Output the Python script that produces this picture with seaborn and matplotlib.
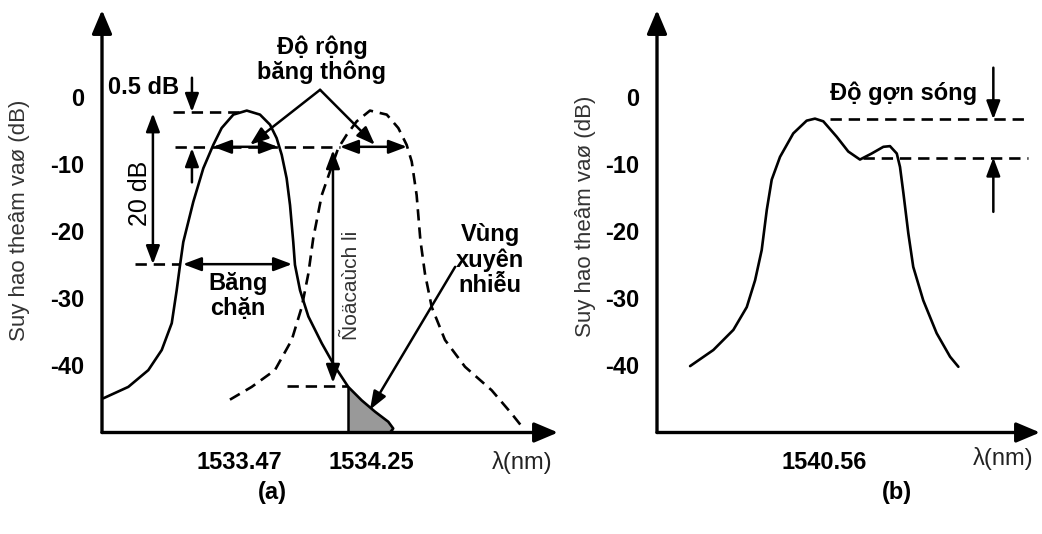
import matplotlib
matplotlib.use("Agg")
import matplotlib.pyplot as plt
import seaborn as sns
import pandas as pd

# ---------------- data ----------------
# Panel (a): solid filter response (wavelength nm, insertion loss dB)
a_solid_nm = [1532.669, 1532.816, 1532.934, 1533.013, 1533.072, 1533.101, 1533.121,
              1533.140, 1533.199, 1533.258, 1533.317, 1533.366, 1533.435, 1533.514,
              1533.592, 1533.651, 1533.690, 1533.720, 1533.749, 1533.769, 1533.788,
              1533.798, 1533.828, 1533.877, 1533.956, 1534.034, 1534.112, 1534.191,
              1534.270, 1534.348, 1534.377, 1534.358]
a_solid_db = [-44.9, -43.2, -40.7, -37.7, -33.7, -28.8, -25.0,
              -21.6, -15.6, -10.6, -7.1, -4.6, -2.6, -2.0,
              -2.6, -4.1, -6.1, -8.6, -12.1, -16.1, -21.6,
              -25.0, -28.8, -32.7, -36.7, -40.2, -43.2, -45.2,
              -46.9, -48.4, -49.4, -50.0]
# Panel (a): dashed adjacent-channel response
a_dash_nm = [1533.415, 1533.543, 1533.680, 1533.779, 1533.838, 1533.877, 1533.906,
             1533.956, 1534.004, 1534.053, 1534.103, 1534.162, 1534.240, 1534.339,
             1534.407, 1534.456, 1534.486, 1534.515, 1534.537, 1534.564, 1534.604,
             1534.682, 1534.800, 1534.957, 1535.075, 1535.144]
a_dash_db = [-45.1, -43.2, -40.7, -36.2, -31.3, -26.3, -21.0,
             -14.6, -11.1, -7.6, -5.6, -3.6, -2.0, -2.6,
             -4.6, -7.1, -9.6, -14.6, -21.3, -26.3, -31.3,
             -36.2, -40.2, -43.7, -47.2, -49.4]
a_xticks = [1533.47, 1534.25]
a_xticklabels = ["1533.47", "1534.25"]
crosstalk_from_nm = 1534.112   # start of the shaded crosstalk region

# Panel (b): ripple filter response
b_nm = [1539.769, 1539.906, 1540.024, 1540.103, 1540.152, 1540.191, 1540.221,
        1540.250, 1540.299, 1540.377, 1540.456, 1540.505, 1540.554, 1540.633,
        1540.701, 1540.770, 1540.839, 1540.908, 1540.947, 1540.987, 1541.006,
        1541.026, 1541.055, 1541.084, 1541.143, 1541.222, 1541.301, 1541.350]
b_db = [-40.1, -37.7, -34.7, -31.3, -27.3, -22.8, -16.8,
        -12.3, -8.9, -5.4, -3.5, -3.2, -3.6, -5.9,
        -8.1, -9.3, -8.4, -7.4, -7.3, -8.4, -10.4,
        -14.3, -20.3, -25.3, -30.3, -35.2, -38.7, -40.2]
b_xticks = [1540.56]
b_xticklabels = ["1540.56"]

y_ticks = [0, -10, -20, -30, -40]
y_ticklabels = ["0", "-10", "-20", "-30", "-40"]
ylabel = "Suy hao theâm vaø (dB)"

# ---------------- style ----------------
sns.set_style("white")
plt.rcParams["font.family"] = ["Liberation Sans", "DejaVu Sans"]
plt.rcParams["text.color"] = "black"
plt.rcParams["xtick.color"] = "black"
plt.rcParams["ytick.color"] = "black"
FS = 17
K = "black"
LW = 1.9
DASH = (0, (4.3, 2.6))

fig = plt.figure(figsize=(10.42, 5.34), dpi=100)
axA = fig.add_axes([102 / 1042, 1 - 432.5 / 534, 456 / 1042, 422.5 / 534])
axB = fig.add_axes([657 / 1042, 1 - 432.5 / 534, 383 / 1042, 422.5 / 534])

YLIM = (-50, 13.0)


def setup(ax, xlim, xt, xtl):
    ax.set_xlim(*xlim)
    ax.set_ylim(*YLIM)
    for s in ax.spines.values():
        s.set_visible(False)
    ax.set_xticks(xt)
    ax.set_xticklabels(xtl, fontsize=FS, fontweight="bold", color=K)
    ax.set_yticks(y_ticks)
    ax.set_yticklabels(y_ticklabels, fontsize=FS, fontweight="bold", color=K)
    ax.tick_params(axis="both", direction="inout", length=9, width=2, color=K)
    ax.tick_params(axis="x", pad=9)
    ax.tick_params(axis="y", pad=8)
    ax.patch.set_alpha(0)
    ax.grid(False)
    arr = dict(arrowstyle="-|>,head_length=0.9,head_width=0.38", lw=2.4, color=K,
               shrinkA=0, shrinkB=0, mutation_scale=16)
    ax.annotate("", xy=(xlim[1], YLIM[0]), xytext=(xlim[0], YLIM[0]), arrowprops=arr,
                annotation_clip=False)
    ax.annotate("", xy=(xlim[0], YLIM[1]), xytext=(xlim[0], YLIM[0]), arrowprops=arr,
                annotation_clip=False)


def arrow(ax, x0, y0, x1, y1, both=False, lw=1.8):
    st = "<|-|>" if both else "-|>"
    ax.annotate("", xy=(x1, y1), xytext=(x0, y0),
                arrowprops=dict(arrowstyle=st + ",head_length=0.85,head_width=0.32",
                                lw=lw, color=K, shrinkA=0, shrinkB=0, mutation_scale=13),
                annotation_clip=False)


def hdash(ax, x0, x1, y):
    ax.plot([x0, x1], [y, y], color=K, lw=LW, linestyle=DASH, clip_on=False)


# ---------------- panel (a) ----------------
setup(axA, (1532.661, 1535.348), a_xticks, a_xticklabels)
dfs = pd.DataFrame({"nm": a_solid_nm, "db": a_solid_db})
dfd = pd.DataFrame({"nm": a_dash_nm, "db": a_dash_db})
sub = dfs[dfs["nm"] >= crosstalk_from_nm].iloc[:-1]
axA.fill_between(sub["nm"], sub["db"], -50, color="#999999", lw=0, zorder=1)
axA.plot([sub["nm"].iloc[0]] * 2, [sub["db"].iloc[0], -50], color=K, lw=1.8)
sns.lineplot(data=dfs, x="nm", y="db", ax=axA, color=K, lw=LW, sort=False,
             estimator=None, solid_capstyle="round", solid_joinstyle="round",
             clip_on=False)
sns.lineplot(data=dfd, x="nm", y="db", ax=axA, color=K, lw=LW, sort=False,
             estimator=None, linestyle=DASH, clip_on=False)
axA.set_xlabel("")
axA.set_ylabel("")

hdash(axA, 1533.079, 1533.50, -2.2)
hdash(axA, 1533.091, 1534.063, -7.4)
hdash(axA, 1532.855, 1533.121, -24.9)
hdash(axA, 1533.751, 1534.104, -43.1)

axA.text(1532.696, 1.5, "0.5 dB", fontsize=FS, fontweight="bold", ha="left", va="center")
arrow(axA, 1533.191, 2.9, 1533.191, -2.2)
arrow(axA, 1533.191, -12.7, 1533.191, -7.6)
arrow(axA, 1532.961, -2.4, 1532.961, -24.9, both=True)
axA.text(1532.882, -14.3, "20 dB", fontsize=FS + 1, rotation=90, ha="center", va="center")
arrow(axA, 1533.138, -24.9, 1533.781, -24.9, both=True)
axA.text(1533.462, -29.6, "Băng\nchặn", fontsize=FS, fontweight="bold", ha="center",
         va="center", linespacing=1.12)
arrow(axA, 1533.315, -7.4, 1533.698, -7.4, both=True)
arrow(axA, 1534.063, -7.4, 1534.458, -7.4, both=True)
arrow(axA, 1533.946, 1.1, 1533.533, -7.1)
arrow(axA, 1533.946, 1.1, 1534.269, -7.1)
axA.text(1533.957, 5.6, "Độ rộng\nbăng thông", fontsize=FS, fontweight="bold",
         ha="center", va="center", linespacing=1.1)
arrow(axA, 1534.022, -7.9, 1534.022, -42.6, both=True)
axA.text(1534.134, -28.0, "Ñoäcaùch li", fontsize=FS - 2, rotation=90, ha="center",
         va="center", color="#333333")
axA.text(1534.948, -24.3, "Vùng\nxuyên\nnhiễu", fontsize=FS, fontweight="bold",
         ha="center", va="center", linespacing=1.12)
arrow(axA, 1534.742, -25.3, 1534.240, -46.6)
axA.text(1535.136, -54.4, "λ(nm)", fontsize=FS, ha="center", va="center",
         color="#222222")

# ---------------- panel (b) ----------------
setup(axB, (1539.574, 1541.831), b_xticks, b_xticklabels)
dfb = pd.DataFrame({"nm": b_nm, "db": b_db})
sns.lineplot(data=dfb, x="nm", y="db", ax=axB, color=K, lw=LW, sort=False,
             estimator=None, solid_capstyle="round", solid_joinstyle="round")
axB.set_xlabel("")
axB.set_ylabel("")
hdash(axB, 1540.592, 1541.743, -3.3)
hdash(axB, 1540.788, 1541.761, -9.0)
arrow(axB, 1541.556, 4.4, 1541.556, -3.3)
arrow(axB, 1541.556, -17.1, 1541.556, -9.0)
axB.text(1541.029, 0.6, "Độ gợn sóng", fontsize=FS, fontweight="bold", ha="center",
         va="center")
axB.text(1541.613, -53.9, "λ(nm)", fontsize=FS, ha="center", va="center",
         color="#222222")

# ---------------- figure texts ----------------
fig.text(20 / 1042, 1 - 220 / 534, ylabel, rotation=90, fontsize=FS - 1, ha="center",
         va="center", color="#333333")
fig.text(585 / 1042, 1 - 216 / 534, ylabel, rotation=90, fontsize=FS - 1, ha="center",
         va="center", color="#333333")
fig.text(272 / 1042, 1 - 492 / 534, "(a)", fontsize=FS, fontweight="bold", ha="center",
         va="center")
fig.text(897 / 1042, 1 - 492 / 534, "(b)", fontsize=FS, fontweight="bold", ha="center",
         va="center")

fig.savefig("out.png", dpi=100, facecolor="white")
